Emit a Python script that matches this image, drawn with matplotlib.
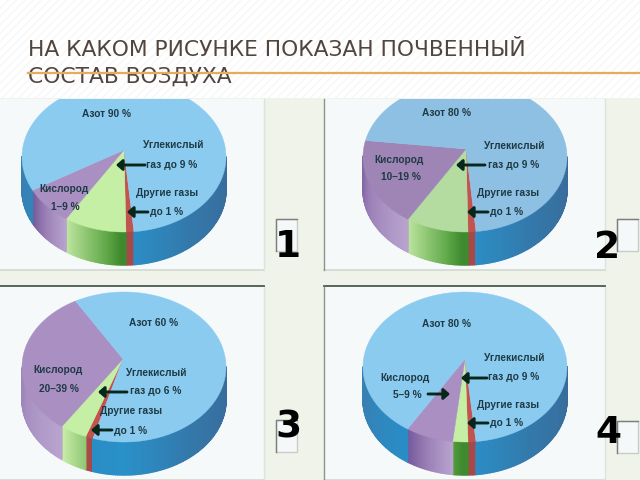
import numpy as np
import matplotlib
matplotlib.use("Agg")
import matplotlib.pyplot as plt
from matplotlib.colors import to_rgb
from matplotlib.patches import Rectangle

plt.rcParams['font.family'] = ['Liberation Sans', 'DejaVu Sans']

title_lines = ['НА КАКОМ РИСУНКЕ ПОКАЗАН ПОЧВЕННЫЙ', 'СОСТАВ ВОЗДУХА']
numbers = ['1', '2', '3', '4']

# visible share of each slice, clockwise from the front: other, co2, oxygen, nitrogen
other_share = [1.25, 1.25, 1.2, 1.25]
co2_share = [9.9, 9.9, 4.3, 2.4]
oxygen_share = [8.1, 19.1, 31.7, 7.6]
nitrogen_share = [80.75, 69.75, 62.8, 88.75]
start_angle = [-5.6, -6.2, 17.7, -6.2]

nitrogen_text = ['Азот 90 %', 'Азот 80 %', 'Азот 60 %', 'Азот 80 %']
co2_text = ['газ до 9 %', 'газ до 9 %', 'газ до 6 %', 'газ до 9 %']
oxygen_text = ['1–9 %', '10–19 %', '20–39 %', '5–9 %']

# layout in pixels
centers = [(124, 157), (465, 157), (124, 367), (465, 367)]
apexes = [(124, 150), (466, 149), (123, 359), (465, 359)]
RX, RY, DEPTH = 102, 75, 33
panels = [(0, 99, 264, 171), (324, 99, 281, 171), (0, 287, 264, 193), (324, 287, 281, 193)]
top_colors = [
    ['#c25450', '#c4efa4', '#a98fc2', '#8ccbf0'],
    ['#c25450', '#b4dba0', '#9f85b6', '#8dc0e2'],
    ['#c25450', '#c4efa4', '#a98fc2', '#8ccbf0'],
    ['#c25450', '#c4efa4', '#a98fc2', '#8ccbf0'],
]
label_pos = [
    {'n': (106, 114), 'c1': (173, 145), 'c2': (172, 165), 'g1': (167, 193), 'g2': (167, 212), 'o1': (64, 189), 'o2': (65, 207)},
    {'n': (447, 113), 'c1': (514, 146), 'c2': (514, 165), 'g1': (508, 193), 'g2': (507, 212), 'o1': (399, 160), 'o2': (401, 177)},
    {'n': (154, 323), 'c1': (156, 373), 'c2': (156, 391), 'g1': (131, 411), 'g2': (131, 431), 'o1': (58, 370), 'o2': (59, 389)},
    {'n': (447, 324), 'c1': (514, 358), 'c2': (514, 377), 'g1': (508, 405), 'g2': (507, 423), 'o1': (405, 378), 'o2': (407, 395)},
]
arrows = [
    [((145, 165), (116, 165)), ((148, 212), (127, 212))],
    [((485, 165), (456, 165)), ((488, 212), (467, 212))],
    [((127, 392), (98, 392)), ((112, 430), (91, 430))],
    [((487, 378), (461, 378)), ((488, 423), (467, 423)), ((428, 394), (450, 394))],
]
number_pos = [(288, 247), (607, 248), (288, 428), (608, 433)]
boxes = [(276, 219), (617, 219), (276, 420), (617, 421)]


def mix(phi, stops, colors):
    rgb = np.array([to_rgb(c) for c in colors])
    return [np.interp(phi, stops, rgb[:, i]) for i in range(3)]


def wall_color(kind, phi, frac):
    if kind == 0:
        return to_rgb('#a84848')
    if kind == 1:
        return mix(phi, [2, 10, 37], ['#3f8a2e', '#5fa848', '#c8eca8'])
    if kind == 2:
        return mix(frac, [0, 0.5, 1], ['#b8a4cf', '#9c82b8', '#75589a'])
    return mix(phi, [-90, -40, 0, 40, 90], ['#3a6a98', '#3478aa', '#2a90c8', '#2a8cc4', '#3a7fb0'])


fig = plt.figure(figsize=(6.4, 4.8), dpi=100)
ax = fig.add_axes([0, 0, 1, 1])
ax.set_xlim(0, 640)
ax.set_ylim(480, 0)
ax.axis('off')

# slide background
ax.add_patch(Rectangle((0, 0), 640, 98, fc='white', ec='#f7f7f7', hatch='////', lw=0, zorder=0))
ax.add_patch(Rectangle((0, 98), 640, 382, fc='#f0f3ea', lw=0, zorder=0))

for (x, y, w, h) in panels:
    ax.add_patch(Rectangle((x, y), w, h, fc='#f5f9f9', lw=0, zorder=1))
    ax.plot([x, x + w], [y + h, y + h], color='#d4d8d2', lw=1.2, zorder=1)
    ax.plot([x + w, x + w], [y, y + h], color='#dfe3dd', lw=1, zorder=1)
for x, y, w, h in panels[2:]:
    ax.plot([x, x + w], [y - 1, y - 1], color='#4a5a50', lw=1.3, zorder=1)
for x, y, w, h in panels[1::2]:
    ax.plot([x, x], [y, y + h], color='#8c948c', lw=1, zorder=1)

for i in range(4):
    cx, cy = centers[i]
    ax_, ay_ = apexes[i]
    clip = Rectangle(panels[i][:2], panels[i][2], panels[i][3], transform=ax.transData)
    shares = [other_share[i], co2_share[i], oxygen_share[i], nitrogen_share[i]]
    edges = start_angle[i] + np.cumsum([0] + shares) * 3.6
    for k in range(4):
        a0, a1 = edges[k], edges[k + 1]
        # side wall, only the part facing the viewer
        phis = np.arange(a0, a1 + 1, 1.0)
        phis = np.append(phis[phis < a1], a1)
        for j in range(len(phis) - 1):
            p0, p1 = phis[j], phis[j + 1]
            for shift in (0, 360):
                q0, q1 = p0 - shift, p1 - shift
                if q1 < -90 or q0 > 90:
                    continue
                xs = cx - RX * np.sin(np.radians([q0, q1, q1, q0]))
                ys = cy + RY * np.cos(np.radians([q0, q1, q1, q0])) + np.array([0, 0, DEPTH, DEPTH])
                col = wall_color(k, (q0 + q1) / 2, (p0 - a0) / (a1 - a0))
                ax.fill(xs, ys, color=col, lw=1.0, zorder=2)
        # top face
        t = np.linspace(a0, a1, max(int(a1 - a0), 2) + 1)
        xs = np.r_[ax_, cx - RX * np.sin(np.radians(t))]
        ys = np.r_[ay_, cy + RY * np.cos(np.radians(t))]
        poly = ax.fill(xs, ys, color=top_colors[i][k], lw=0.3, zorder=3)[0]
        poly.set_clip_path(clip)

    pos = label_pos[i]
    labels = [('n', nitrogen_text[i]), ('c1', 'Углекислый'), ('c2', co2_text[i]),
              ('g1', 'Другие газы'), ('g2', 'до 1 %'), ('o1', 'Кислород'), ('o2', oxygen_text[i])]
    for key, s in labels:
        ax.text(pos[key][0], pos[key][1], s, ha='center', va='center', fontsize=7.3,
                fontweight='bold', color='#1e3a44', zorder=5)
    for tail, head in arrows[i]:
        ax.annotate('', xy=head, xytext=tail, zorder=6,
                    arrowprops=dict(arrowstyle='-|>,head_width=0.32,head_length=0.36', color='#06281c',
                                    lw=2.1, shrinkA=0, shrinkB=0))

    bx, by = boxes[i]
    ax.add_patch(Rectangle((bx, by), 21, 32, fc='#f4f8f8', ec='#c9cdc9', lw=1, zorder=4))
    ax.plot([bx, bx, bx + 21], [by + 32, by, by], color='#7c807c', lw=1, zorder=4)
    ax.text(number_pos[i][0], number_pos[i][1], numbers[i], ha='center', va='center', fontsize=27,
            fontweight='bold', family='DejaVu Sans', color='black', zorder=7)

# title with the orange rule running through the second line
ax.text(28, 50, title_lines[0], family='DejaVu Sans', fontsize=15.7, color='#51453f', va='center', zorder=8)
ax.text(28, 77, title_lines[1], family='DejaVu Sans', fontsize=15.7, color='#51453f', va='center', zorder=8)
ax.plot([28, 640], [73, 73], color='#e8ab5c', lw=1.6, zorder=9)

fig.savefig('out.png', dpi=100)
